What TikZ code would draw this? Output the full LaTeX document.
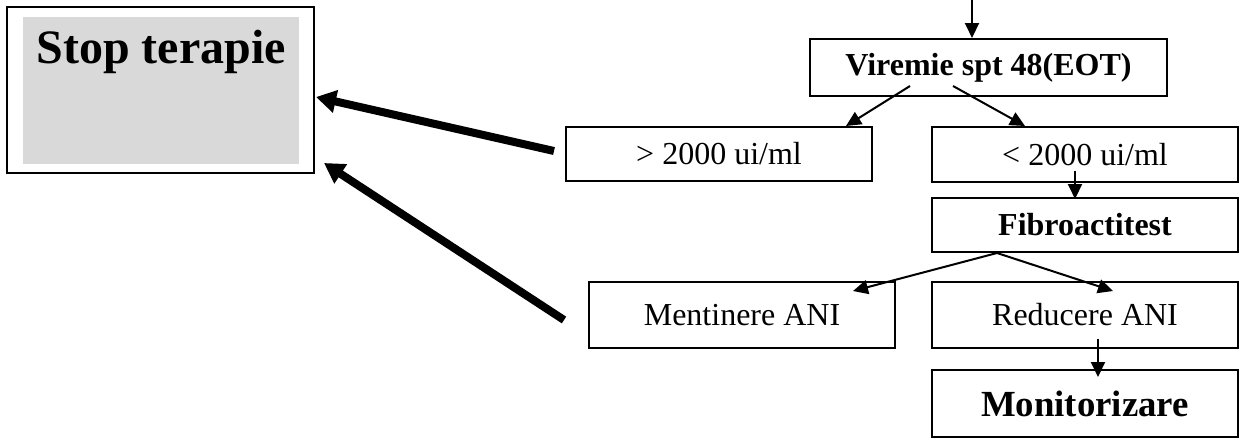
\documentclass[tikz,border=0pt]{standalone}
\usepackage{fontspec}
\setmainfont{Liberation Serif}
\usetikzlibrary{arrows.meta, calc}

\begin{document}
\begin{tikzpicture}[x = .5pt, y = -.5pt,
  box/.style = {draw, line width = 1pt, minimum width = 153pt, inner sep = 0pt, font = \fontsize{16}{19}\selectfont},
  thin/.style = {-{Triangle[length = 7.5pt, width = 7pt]}, line width = 1pt},
  thick/.style = {-{Triangle[length = 10pt, width = 11pt]}, line width = 4pt}]
  \useasboundingbox (0, 0) rectangle (1246, 439);
  % left box
  \node[draw, line width = 1pt, minimum width = 153.5pt, minimum height = 83pt] (stop) at (160.5, 90) {};
  \fill[gray!30] ($(stop.north west) + (17, 11)$) rectangle ($(stop.south east) + (-16, -10)$);
  \node[anchor = base, font = \fontsize{24}{28}\selectfont\bfseries] (stoptxt) at (161, 63) {Stop terapie};
  % flow
  \node[box, minimum width = 178.5pt, minimum height = 28.5pt, font = \fontsize{16}{19}\selectfont\bfseries] (vir) at (988.5, 67.5) {Viremie spt 48(EOT)};
  \node[box, minimum height = 27pt] (hi) at (719, 154) {> 2000 ui/ml};
  \node[box, minimum height = 27.5pt] (lo) at (1085, 154.5) {< 2000 ui/ml};
  \node[box, minimum height = 27pt, font = \fontsize{16}{19}\selectfont\bfseries] (fibro) at (1085, 225) {Fibroactitest};
  \node[box, minimum height = 33pt] (ment) at (742, 315) {Mentinere ANI};
  \node[box, minimum height = 33pt] (red) at (1085, 315) {Reducere ANI};
  \node[box, minimum height = 33.5pt, font = \fontsize{18.4}{22}\selectfont\bfseries] (mon) at (1085, 403.5) {Monitorizare};
  \coordinate (in) at (972, 0);
  \draw[thin] (in) -- (in |- vir.north);
  \draw[thin] ($(vir.south) + (-78.5, -11)$) -- ($(hi.north) + (127, 0)$);
  \draw[thin] ($(vir.south) + (-35.5, -11)$) -- ($(lo.north) + (-60, 0)$);
  \draw[thin] ($(lo.south) + (-10, -12)$) -- ($(fibro.north) + (-10, 2)$);
  \draw[thin] ($(fibro.south) + (-88, 0)$) -- ($(ment.north) + (111, 10)$);
  \draw[thin] ($(fibro.south) + (-88, 0)$) -- ($(red.north) + (28, 10)$);
  \draw[thin] ($(red.south) + (13, -10)$) -- ($(mon.north) + (13, 8)$);
  % back to stop
  \draw[thick] ($(hi.west) + (-11, -3)$) -- ($(stop.east) + (1, 7)$);
  \draw[thick] ($(ment.west) + (-24, 5)$) -- ($(stop.south east) + (9, -11)$);
\end{tikzpicture}
\end{document}
